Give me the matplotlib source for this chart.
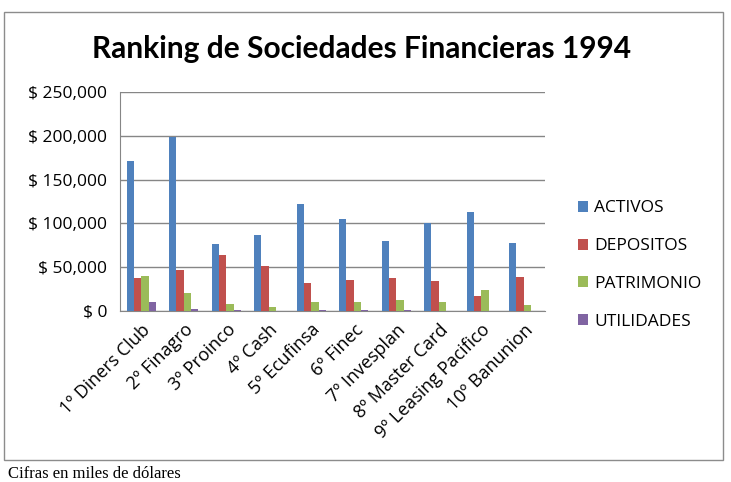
import matplotlib.pyplot as plt
import numpy as np
from matplotlib.patches import Rectangle

# datos (miles de dolares)
sociedades = ['1º Diners Club', '2º Finagro', '3º Proinco', '4º Cash', '5º Ecufinsa',
              '6º Finec', '7º Invesplan', '8º Master Card', '9º Leasing Pacifico', '10º Banunion']
activos = [171800, 198400, 76400, 86300, 122300, 105200, 79800, 100000, 112900, 77900]
depositos = [38000, 46700, 63500, 51000, 31500, 35300, 37200, 34200, 17500, 38400]
patrimonio = [39900, 20500, 8000, 4200, 10600, 10300, 12500, 10600, 23900, 6800]
utilidades = [10600, 2600, 1500, 500, 1500, 1000, 800, 500, 300, 300]

series = [('ACTIVOS', activos, '#4F81BD'),
          ('DEPOSITOS', depositos, '#C0504D'),
          ('PATRIMONIO', patrimonio, '#9BBB59'),
          ('UTILIDADES', utilidades, '#8064A2')]

W, H = 731, 482
fig = plt.figure(figsize=(W / 100, H / 100), dpi=100)

# marco del grafico
fig.patches.append(Rectangle((4 / W, 1 - 460 / H), 719 / W, 448 / H, transform=fig.transFigure,
                             fill=False, edgecolor='#8c8c8c', linewidth=1))

ax = fig.add_axes([120 / W, 1 - 311 / H, 425 / W, 219 / H])

x = np.arange(len(sociedades))
bw = 0.172
for i, (name, vals, col) in enumerate(series):
    ax.bar(x + (i - 1.5) * bw, vals, bw, color=col, label=name, zorder=3)

ax.set_xlim(-0.5, len(sociedades) - 0.5)
ax.set_ylim(0, 250000)
ax.set_yticks(range(0, 250001, 50000))
ax.set_yticklabels(['$ 0' if v == 0 else '$ {:,}'.format(v) for v in range(0, 250001, 50000)],
                   fontsize=12.5, family='Open Sans')
ax.grid(axis='y', color='#868686', linewidth=1, zorder=0)
ax.set_xticks(x)
ax.set_xticklabels(sociedades, rotation=45, ha='right', rotation_mode='anchor',
                   fontsize=13, family='Open Sans')
ax.tick_params(axis='y', length=0, pad=9)
ax.tick_params(axis='x', length=0, pad=7)
for s in ['top', 'right']:
    ax.spines[s].set_visible(False)
ax.spines['left'].set_color('#868686')
ax.spines['bottom'].set_color('#868686')

fig.text(362 / W, 1 - 49 / H, 'Ranking de Sociedades Financieras 1994', ha='center', va='center',
         fontsize=21.5, fontweight='bold', family='Lato')

ax.legend(loc='center left', bbox_to_anchor=(562 / W, 1 - 265 / H), bbox_transform=fig.transFigure,
          frameon=False, prop={'family': 'Open Sans', 'size': 12.5}, handlelength=0.6,
          handleheight=0.6, handletextpad=0.35, labelspacing=1.25)

fig.text(8 / W, 1 - 466 / H, 'Cifras en miles de dólares', ha='left', va='top',
         fontsize=12, family='Liberation Serif')

fig.savefig('out.png', dpi=100)
